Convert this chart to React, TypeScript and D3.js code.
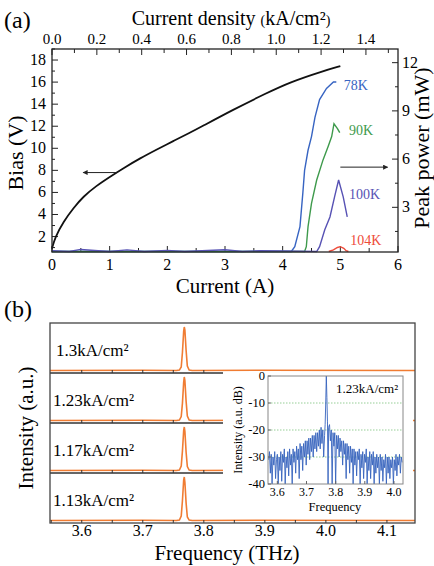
import * as d3 from 'd3';

// ---- panel (a): bias / peak power vs current ----
const biasCurve: [number, number][] = [
  [0, 0.9], [0.05, 1.9], [0.2, 3.36], [0.37, 4.57], [0.54, 5.62], [0.77, 6.6],
  [1.0, 7.4], [1.24, 8.2], [1.53, 9.1], [1.82, 9.9], [2.1, 10.65], [2.39, 11.4],
  [2.57, 11.9], [3.14, 13.5], [3.72, 15.0], [4.13, 16.0], [4.7, 17.0], [5.0, 17.45],
];

const power78: [number, number][] = [
  [0, 0.25], [4.15, 0.25], [4.21, 0.55], [4.3, 1.8], [4.35, 3.9], [4.38, 5.3], [4.44, 6.55],
  [4.5, 7.4], [4.56, 8.6], [4.64, 9.7], [4.76, 10.4], [4.88, 10.8], [4.93, 10.8],
];
const power90: [number, number][] = [
  [0, 0.25], [4.38, 0.25], [4.41, 0.55], [4.44, 1.8], [4.5, 3.25], [4.59, 4.7], [4.7, 5.95],
  [4.79, 6.8], [4.85, 7.4], [4.89, 8.2], [4.95, 7.9], [4.99, 7.65],
];
const power100: [number, number][] = [
  [0, 0.3], [0.3, 0.25], [0.5, 0.38], [0.8, 0.3], [1.0, 0.25], [1.3, 0.35], [1.6, 0.25],
  [2.0, 0.32], [2.3, 0.25], [2.6, 0.3], [3.0, 0.36], [3.3, 0.25], [3.6, 0.3], [4.0, 0.28],
  [4.59, 0.25], [4.64, 0.55], [4.73, 1.6], [4.82, 2.4], [4.9, 3.65], [4.97, 4.7],
  [5.05, 3.65], [5.12, 2.4],
];
const power104: [number, number][] = [
  [4.8, 0.25], [4.88, 0.35], [4.95, 0.5], [5.0, 0.55], [5.06, 0.45], [5.1, 0.3], [5.14, 0.25],
];

const tempLabels = ['78K', '90K', '100K', '104K'];
const tempColors = ['#3764c2', '#3e9a4c', '#5752b4', '#ee4b3a'];
const tempLabelPos: [number, number][] = [[5.06, 10.3], [5.15, 7.5], [5.15, 3.5], [5.17, 0.65]];

const currentTicks = [0, 1, 2, 3, 4, 5, 6];
const densityTicks = [0, 0.2, 0.4, 0.6, 0.8, 1.0, 1.2, 1.4];
const biasTicks = [2, 4, 6, 8, 10, 12, 14, 16, 18];
const powerTicks = [3, 6, 9, 12];

// ---- panel (b): emission spectra ----
const densityLabels = ['1.3', '1.23', '1.17', '1.13'];
const peakFreq = [3.548, 3.7, 3.755, 3.76, 3.763, 3.765, 3.767, 3.768, 3.769, 3.771, 3.773, 3.776, 3.781, 3.9, 4.146];
const spectra: number[][] = [
  [0, 0.005, 0, 0.01, 0.08, 0.42, 0.9, 1.0, 0.93, 0.46, 0.1, 0.01, 0, 0.005, 0],
  [0, 0.005, 0, 0.01, 0.09, 0.4, 0.88, 1.0, 0.92, 0.44, 0.1, 0.01, 0, 0.005, 0],
  [0, 0.005, 0, 0.01, 0.1, 0.45, 0.92, 1.0, 0.9, 0.42, 0.09, 0.01, 0, 0.005, 0],
  [0, 0.005, 0, 0.01, 0.1, 0.46, 0.93, 1.0, 0.88, 0.4, 0.08, 0.01, 0, 0.005, 0],
];
const freqTicks = [3.6, 3.7, 3.8, 3.9, 4.0, 4.1];

// inset: log spectrum at 1.23 kA/cm2 (freq THz, dB)
const insetSpectrum: [number, number][] = [
  [3.57, -31], [3.573, -28], [3.576, -36], [3.579, -29], [3.582, -40], [3.585, -30], [3.588, -33],
  [3.591, -28], [3.594, -38], [3.597, -31], [3.6, -29], [3.603, -40], [3.606, -30], [3.609, -35],
  [3.612, -28], [3.615, -39], [3.618, -29], [3.621, -32], [3.624, -27], [3.627, -40], [3.63, -30],
  [3.633, -34], [3.636, -28], [3.639, -37], [3.642, -27], [3.645, -33], [3.648, -29], [3.651, -40],
  [3.654, -27], [3.657, -32], [3.66, -28], [3.663, -36], [3.666, -26], [3.669, -31], [3.672, -27],
  [3.675, -38], [3.678, -25], [3.681, -31], [3.684, -26], [3.687, -35], [3.69, -25], [3.693, -30],
  [3.696, -24], [3.699, -33], [3.702, -24], [3.705, -29], [3.708, -23], [3.711, -31], [3.714, -23],
  [3.717, -28], [3.72, -22], [3.723, -30], [3.726, -22], [3.729, -27], [3.732, -21], [3.735, -28],
  [3.738, -21], [3.741, -26], [3.744, -20], [3.747, -27], [3.75, -19], [3.753, -25], [3.756, -20],
  [3.759, -30], [3.762, -22], [3.764, -18], [3.766, -10], [3.768, 0], [3.77, -8], [3.772, -17],
  [3.774, -40], [3.776, -19], [3.779, -18], [3.782, -24], [3.785, -20], [3.788, -40], [3.791, -21],
  [3.794, -26], [3.797, -21], [3.8, -40], [3.803, -22], [3.806, -27], [3.809, -22], [3.812, -30],
  [3.815, -23], [3.818, -28], [3.821, -24], [3.824, -33], [3.827, -24], [3.83, -29], [3.833, -25],
  [3.836, -38], [3.839, -25], [3.842, -31], [3.845, -26], [3.848, -36], [3.851, -26], [3.854, -32],
  [3.857, -27], [3.86, -40], [3.863, -27], [3.866, -33], [3.869, -28], [3.872, -37], [3.875, -28],
  [3.878, -31], [3.881, -27], [3.884, -40], [3.887, -29], [3.89, -34], [3.893, -28], [3.896, -38],
  [3.899, -29], [3.902, -32], [3.905, -27], [3.908, -40], [3.911, -30], [3.914, -35], [3.917, -28],
  [3.92, -38], [3.923, -29], [3.926, -33], [3.929, -28], [3.932, -40], [3.935, -30], [3.938, -36],
  [3.941, -29], [3.944, -34], [3.947, -30], [3.95, -40], [3.953, -29], [3.956, -35], [3.959, -30],
  [3.962, -39], [3.965, -31], [3.968, -34], [3.971, -29], [3.974, -40], [3.977, -30], [3.98, -36],
  [3.983, -30], [3.986, -38], [3.989, -31], [3.992, -34], [3.995, -30], [3.998, -40], [4.001, -31],
  [4.004, -35], [4.007, -29], [4.01, -37], [4.013, -30], [4.016, -33], [4.019, -29], [4.022, -36],
  [4.025, -30], [4.028, -32],
];
const insetXTicks = [3.6, 3.7, 3.8, 3.9, 4.0];
const insetYTicks = [0, -10, -20, -30, -40];
const insetGrid = [-10, -20, -30];

const FONT = "'Liberation Serif', 'DejaVu Serif', serif";
const ORANGE = '#f07c32';

export default function App() {
  // panel (a) scales
  const xA = d3.scaleLinear().domain([0, 6]).range([52, 398]);
  const xTop = d3.scaleLinear().domain([0, 1.543]).range([52, 398]);
  const yBias = d3.scaleLinear().domain([0.6, 19]).range([252, 49]);
  const yPow = d3.scaleLinear().domain([0.22, 12.85]).range([252, 49]);

  const biasLine = d3.line<[number, number]>().x(d => xA(d[0])).y(d => yBias(d[1])).curve(d3.curveBasis);
  const powLine = d3.line<[number, number]>().x(d => xA(d[0])).y(d => yPow(d[1]));

  // panel (b) scales
  const xB = d3.scaleLinear().domain([3.548, 4.146]).range([50, 415]);
  const band = d3.scaleBand<string>().domain(densityLabels).range([323, 523]);
  const xI = d3.scaleLinear().domain([3.568, 4.031]).range([268, 403]);
  const yI = d3.scaleLinear().domain([-40, 0]).range([484, 376]);
  const insetLine = d3.line<[number, number]>().x(d => xI(d[0])).y(d => yI(d[1]));

  const powerSeries = [power78, power90, power100, power104];

  return (
    <svg width={434} height={566} style={{ position: 'absolute', left: 0, top: 0, background: '#fff', fontFamily: FONT }}>
      <defs>
        <marker id="arr" viewBox="0 0 10 10" refX="9" refY="5" markerWidth="7" markerHeight="5" orient="auto">
          <path d="M0,0 L10,5 L0,10 z" fill="#222" />
        </marker>
      </defs>

      {/* ---------- (a) ---------- */}
      <text x={4} y={28} fontSize={24}>(a)</text>
      <text x={231} y={25} fontSize={20} textAnchor="middle">
        Current density <tspan fontSize={14}>(</tspan>kA/cm²<tspan fontSize={14}>)</tspan>
      </text>

      {/* top axis ticks */}
      {d3.range(0, 16).map(i => (
        <line key={'tt' + i} x1={xTop(i * 0.1)} x2={xTop(i * 0.1)} y1={49} y2={i % 2 === 0 ? 55 : 53}
          stroke="#222" strokeWidth={1} />
      ))}
      {densityTicks.map(t => (
        <text key={'tl' + t} x={xTop(t)} y={44} fontSize={15} textAnchor="middle">{t.toFixed(1)}</text>
      ))}

      {/* bottom axis */}
      {d3.range(0, 13).map(i => (
        <line key={'bt' + i} x1={xA(i * 0.5)} x2={xA(i * 0.5)} y1={252} y2={i % 2 === 0 ? 246 : 248}
          stroke="#222" strokeWidth={1} />
      ))}
      {currentTicks.map(t => (
        <text key={'bl' + t} x={xA(t)} y={270} fontSize={16} textAnchor="middle">{t}</text>
      ))}
      <text x={225} y={293} fontSize={21} textAnchor="middle">Current (A)</text>

      {/* left axis */}
      {d3.range(1, 20).map(v => (
        <line key={'lt' + v} x1={52} x2={v % 2 === 0 ? 58 : 55} y1={yBias(v)} y2={yBias(v)} stroke="#222" strokeWidth={1} />
      ))}
      {biasTicks.map(t => (
        <text key={'ll' + t} x={46} y={yBias(t) + 5} fontSize={16} textAnchor="end">{t}</text>
      ))}
      <text transform="translate(23,153) rotate(-90)" fontSize={22} textAnchor="middle">Bias (V)</text>

      {/* right axis */}
      {d3.range(1, 9).map(i => (
        <line key={'rt' + i} x1={398} x2={i % 2 === 0 ? 392 : 395} y1={yPow(i * 1.5)} y2={yPow(i * 1.5)}
          stroke="#222" strokeWidth={1} />
      ))}
      {powerTicks.map(t => (
        <text key={'rl' + t} x={402} y={yPow(t) + 5} fontSize={16}>{t}</text>
      ))}
      <text transform="translate(429,148) rotate(-90)" fontSize={22} textAnchor="middle">Peak power (mW)</text>

      {/* curves */}
      {powerSeries.map((s, i) => (
        <path key={'p' + i} d={powLine(s) ?? ''} fill="none" stroke={tempColors[i]} strokeWidth={1.4} />
      ))}
      <path d={biasLine(biasCurve) ?? ''} fill="none" stroke="#111" strokeWidth={1.8} />
      {tempLabels.map((l, i) => (
        <text key={l} x={xA(tempLabelPos[i][0])} y={yPow(tempLabelPos[i][1])} fontSize={14} fill={tempColors[i]}>{l}</text>
      ))}

      {/* arrows */}
      <line x1={xA(1.12)} x2={xA(0.54)} y1={yBias(7.8)} y2={yBias(7.8)} stroke="#222" strokeWidth={1} markerEnd="url(#arr)" />
      <line x1={xA(5.0)} x2={xA(5.82)} y1={yPow(5.5)} y2={yPow(5.5)} stroke="#222" strokeWidth={1} markerEnd="url(#arr)" />

      {/* frame */}
      <rect x={52} y={49} width={346} height={203} fill="none" stroke="#222" strokeWidth={1.3} />

      {/* ---------- (b) ---------- */}
      <text x={4} y={317} fontSize={24}>(b)</text>

      {densityLabels.map((lab, i) => {
        const top = band(lab) ?? 0;
        const bot = top + band.bandwidth();
        const y = d3.scaleLinear().domain([0, 1]).range([bot - 2.5, top + 4]);
        const line = d3.line<number>().x((_, j) => xB(peakFreq[j])).y(d => y(d));
        return (
          <g key={lab}>
            <path d={line(spectra[i]) ?? ''} fill="none" stroke={ORANGE} strokeWidth={1.6} />
            <text x={i === 0 ? 56 : 53} y={bot - 17} fontSize={17}>{lab}kA/cm²</text>
          </g>
        );
      })}

      {/* separators with ticks */}
      {densityLabels.slice(1).map(lab => {
        const y0 = band(lab) ?? 0;
        return (
          <g key={'sep' + lab}>
            <line x1={50} x2={223} y1={y0} y2={y0} stroke="#333" strokeWidth={1.4} />
            {freqTicks.concat([3.65, 3.75]).filter(t => xB(t) < 223).map(t => (
              <line key={t} x1={xB(t)} x2={xB(t)} y1={y0} y2={y0 - 3} stroke="#333" strokeWidth={1} />
            ))}
          </g>
        );
      })}

      {/* bottom axis */}
      {d3.range(0, 12).map(i => {
        const f = 3.55 + i * 0.05;
        return <line key={'fb' + i} x1={xB(f)} x2={xB(f)} y1={523} y2={520} stroke="#333" strokeWidth={1} />;
      })}
      {freqTicks.map(t => (
        <text key={'fl' + t} x={xB(t)} y={536} fontSize={16} textAnchor="middle">{t.toFixed(1)}</text>
      ))}
      <text x={227} y={560} fontSize={21} textAnchor="middle">Frequency (THz)</text>
      <text transform="translate(33,428) rotate(-90)" fontSize={21} textAnchor="middle">Intensity (a.u.)</text>

      <rect x={50} y={323} width={365} height={200} fill="none" stroke="#444" strokeWidth={1.3} />

      {/* inset */}
      <rect x={223} y={372} width={190} height={145} fill="#fff" />
      {insetGrid.map(g => (
        <line key={'g' + g} x1={268} x2={403} y1={yI(g)} y2={yI(g)} stroke="#7cc27c" strokeWidth={0.8} strokeDasharray="1.5,1.5" />
      ))}
      <path d={insetLine(insetSpectrum) ?? ''} fill="none" stroke="#3763bd" strokeWidth={0.9} />
      <rect x={268} y={376} width={135} height={108} fill="none" stroke="#888" strokeWidth={1} />
      {insetXTicks.map(t => (
        <g key={'ix' + t}>
          <line x1={xI(t)} x2={xI(t)} y1={484} y2={481} stroke="#666" />
          <text x={xI(t)} y={496} fontSize={12} textAnchor="middle">{t.toFixed(1)}</text>
        </g>
      ))}
      {insetYTicks.map(t => (
        <g key={'iy' + t}>
          <line x1={268} x2={271} y1={yI(t)} y2={yI(t)} stroke="#666" />
          <text x={265} y={yI(t) + 4} fontSize={12.5} textAnchor="end">{t}</text>
        </g>
      ))}
      <text x={335} y={511} fontSize={12.5} textAnchor="middle">Frequency</text>
      <text transform="translate(242,430) rotate(-90)" fontSize={12} textAnchor="middle">Intensity (a.u. dB)</text>
      <text x={336} y={393} fontSize={13}>1.23kA/cm²</text>
    </svg>
  );
}
